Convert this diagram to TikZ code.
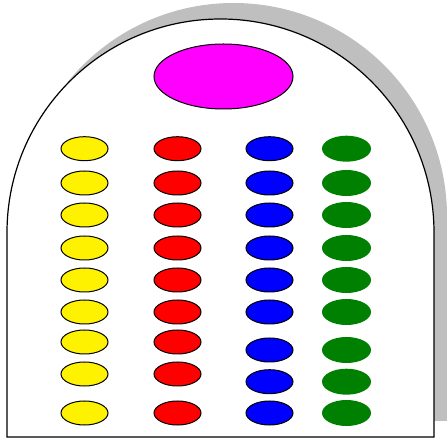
\documentclass[tikz,border=0pt]{standalone}
\usepackage{xcolor}
\usepackage{tikz}
\usetikzlibrary{shapes.geometric}
\definecolor{shadowgray}{RGB}{191,191,191}
\definecolor{darkgreen}{RGB}{0,128,0}
\definecolor{pinkhole}{RGB}{255,0,255}
\tikzset{
  hole/.style={ellipse, draw=black, line width=1pt, inner sep=0pt, minimum width=47pt, minimum height=24pt},
  bighole/.style={ellipse, draw=black, line width=1pt, inner sep=0pt, minimum width=139pt, minimum height=65pt, fill=pinkhole},
  flatpeg/.style={ellipse, inner sep=0pt, minimum width=49pt, minimum height=26pt, fill=darkgreen}
}
\begin{document}
\begin{tikzpicture}[x=1pt, y=1pt]
\useasboundingbox (0,0) rectangle (447,439);
% shadow, then the board
\fill[shadowgray] (20,18) -- (20,222.5) arc[start angle=180, end angle=0, radius=213.5] -- (447,18) -- cycle;
\draw[line width=1.2pt, fill=white] (7,2) -- (7,206.5) arc[start angle=180, end angle=0, radius=213.5] -- (434,2) -- cycle;
\node[bighole] (top) at (223.5,362.5) {};
% left two columns
\foreach \k/\y in {1/290.3, 2/256, 3/224, 4/191, 5/159, 6/127, 7/97, 8/65, 9/26} {
  \node[hole, fill=yellow] (yl\k) at (84.5,\y) {};
  \node[hole, fill=red] (rd\k) at (177.5,\y) {};
}
% right two columns
\foreach \k/\y in {1/290.3, 2/256, 3/224, 4/191, 5/159, 6/127, 7/89, 8/57.3, 9/26} {
  \node[hole, fill=blue] (bl\k) at (269.5,\y) {};
  \node[flatpeg] (gr\k) at (346.5,\y) {};
}
\end{tikzpicture}
\end{document}
